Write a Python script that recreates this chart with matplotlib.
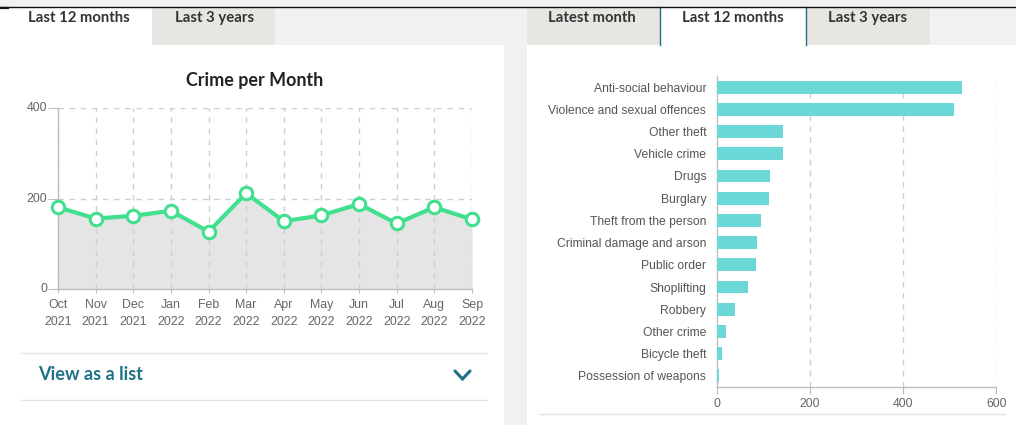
import matplotlib
matplotlib.use("Agg")
import matplotlib.pyplot as plt
from matplotlib.patches import Rectangle
from matplotlib.lines import Line2D

# ---- data ----
months = ["Oct\n2021", "Nov\n2021", "Dec\n2021", "Jan\n2022", "Feb\n2022", "Mar\n2022",
          "Apr\n2022", "May\n2022", "Jun\n2022", "Jul\n2022", "Aug\n2022", "Sep\n2022"]
crimes_per_month = [181, 156, 162, 173, 127, 212, 150, 163, 188, 145, 181, 154]

categories = ["Anti-social behaviour", "Violence and sexual offences", "Other theft",
              "Vehicle crime", "Drugs", "Burglary", "Theft from the person",
              "Criminal damage and arson", "Public order", "Shoplifting", "Robbery",
              "Other crime", "Bicycle theft", "Possession of weapons"]
category_counts = [527, 509, 142, 142, 114, 112, 96, 87, 84, 67, 39, 21, 12, 4]

left_y_ticks = [0, 200, 400]
right_x_ticks = [0, 200, 400, 600]

left_tabs = ["Last 12 months", "Last 3 years"]
right_tabs = ["Latest month", "Last 12 months", "Last 3 years"]

# ---- figure ----
W, H = 1016, 425
fig = plt.figure(figsize=(W / 100, H / 100), dpi=100)
fig.patch.set_facecolor("#f3f1ef")

bg = fig.add_axes([0, 0, 1, 1])
bg.set_xlim(0, W)
bg.set_ylim(H, 0)
bg.axis("off")

TAB = "#e8e6e3"
TEAL = "#1d7285"

def rect(x0, y0, x1, y1, color, z=0):
    bg.add_patch(Rectangle((x0, y0), x1 - x0, y1 - y0, facecolor=color, edgecolor="none", zorder=z))

# panels
rect(0, 45, 504, H, "white")
rect(527, 45, W, H, "white")
# left tab row
rect(0, 7, 152, 45, "white")
rect(152, 7, 275, 45, TAB)
# right tab row
rect(527, 7, 660, 45, TAB)
rect(660, 7, 806, 45, "white")
rect(806, 7, 930, 45, TAB)
bg.add_line(Line2D([660, 660], [7, 45], color=TEAL, lw=1.0))
bg.add_line(Line2D([806, 806], [7, 45], color=TEAL, lw=1.0))
# top black line
bg.add_line(Line2D([0, W], [7, 7], color="#111111", lw=1.0))
bg.add_line(Line2D([0, 8], [7.6, 7.6], color="#111111", lw=1.6))

tab_font = dict(family="Lato", fontsize=10.7, fontweight="bold", color="#333333",
                ha="center", va="center")
for txt, cx in zip(left_tabs, [79, 215]):
    bg.text(cx, 18, txt, **tab_font)
for txt, cx in zip(right_tabs, [592, 733, 868]):
    bg.text(cx, 18, txt, **tab_font)

# title
bg.text(255, 80, "Crime per Month", family="Lato", fontsize=12.9, fontweight="bold",
        color="#222222", ha="center", va="center")

# list section
bg.add_line(Line2D([21, 487], [352.5, 352.5], color="#e2e2e2", lw=1.0))
bg.add_line(Line2D([21, 487], [400, 400], color="#e2e2e2", lw=1.0))
bg.text(38, 375, "View as a list", family="Lato", fontsize=13.1, fontweight="bold",
        color=TEAL, ha="left", va="center")
bg.add_line(Line2D([455, 462.5, 470], [371, 379, 371], color=TEAL, lw=2.2,
                   solid_capstyle="round", solid_joinstyle="miter"))
bg.add_line(Line2D([540, 1005], [414, 414], color="#e2e2e2", lw=1.0))

def px_axes(x0, y0, x1, y1):
    return fig.add_axes([x0 / W, 1 - y1 / H, (x1 - x0) / W, (y1 - y0) / H])

TICKFONT = "Liberation Sans"
GRID = "#cfcfcf"
AXIS = "#bdbdbd"

# ---- left line chart ----
ax1 = px_axes(58, 108.3, 472, 289)
ax1.set_facecolor("none")
x = list(range(len(months)))
ax1.fill_between(x, crimes_per_month, 0, color="#e5e5e5", zorder=1, linewidth=0)
ax1.plot(x, crimes_per_month, color="#41e08f", lw=3.0, zorder=3,
         marker="o", markersize=9, markerfacecolor="white",
         markeredgecolor="#41e08f", markeredgewidth=2.2, clip_on=False)
ax1.set_xlim(0, len(months) - 1)
ax1.set_ylim(0, 400)
ax1.set_yticks(left_y_ticks)
ax1.set_xticks(x)
ax1.set_xticklabels(months, linespacing=1.6)
for v in x:
    ax1.axvline(v, color=GRID, lw=1.0, ls=(0, (4, 4)), zorder=2)
for v in left_y_ticks[1:]:
    ax1.axhline(v, color=GRID, lw=1.0, ls=(0, (4, 4)), zorder=2)
for s in ["top", "right"]:
    ax1.spines[s].set_visible(False)
for s in ["left", "bottom"]:
    ax1.spines[s].set_color(AXIS)
    ax1.spines[s].set_linewidth(1.0)
    ax1.spines[s].set_zorder(2.5)
ax1.tick_params(axis="y", length=7, color=AXIS, pad=1, labelsize=8.9, labelcolor="#666666")
ax1.tick_params(axis="x", length=3, color=AXIS, pad=4, labelsize=8.9, labelcolor="#666666")
for lab in ax1.get_xticklabels() + ax1.get_yticklabels():
    lab.set_family(TICKFONT)
for lab in ax1.get_yticklabels():
    lab.set_verticalalignment("center")

# ---- right bar chart ----
ax2 = px_axes(716.7, 76, 996.3, 387)
ax2.set_facecolor("none")
pos = list(range(len(categories)))
ax2.barh(pos, category_counts, height=0.58, color="#6bd8d7", zorder=3)
ax2.set_ylim(len(categories) - 0.5, -0.5)
ax2.set_xlim(0, 600)
ax2.set_yticks(pos)
ax2.set_yticklabels(categories)
ax2.set_xticks(right_x_ticks)
for v in right_x_ticks[1:]:
    ax2.axvline(v, color=GRID, lw=1.0, ls=(0, (4, 4)), zorder=1)
for s in ["top", "right"]:
    ax2.spines[s].set_visible(False)
for s in ["left", "bottom"]:
    ax2.spines[s].set_color(AXIS)
    ax2.spines[s].set_linewidth(1.0)
ax2.tick_params(axis="y", length=0, pad=7.5, labelsize=8.7, labelcolor="#555555")
ax2.tick_params(axis="x", length=5, color=AXIS, pad=3, labelsize=8.8, labelcolor="#666666")
for lab in ax2.get_xticklabels() + ax2.get_yticklabels():
    lab.set_family(TICKFONT)

fig.savefig("out.png", dpi=100, facecolor=fig.get_facecolor())
